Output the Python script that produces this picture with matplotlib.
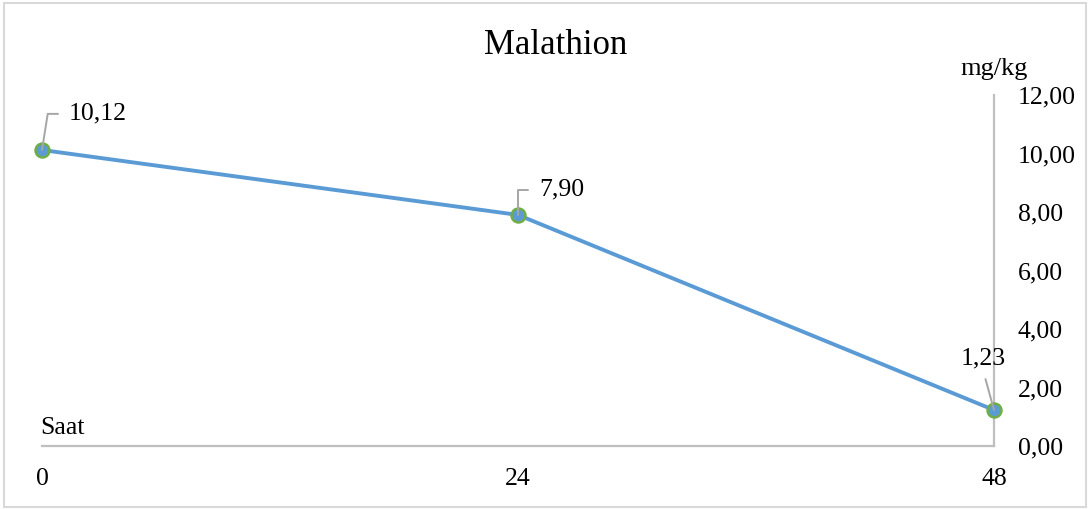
import matplotlib
matplotlib.use("Agg")
import matplotlib.pyplot as plt
from matplotlib.patches import Rectangle

hours = [0, 24, 48]
values = [10.12, 7.90, 1.23]
labels = ["10,12", "7,90", "1,23"]
yticks = [0, 2, 4, 6, 8, 10, 12]
ytick_labels = ["0,00", "2,00", "4,00", "6,00", "8,00", "10,00", "12,00"]
title = "Malathion"
x_name = "Saat"
y_name = "mg/kg"

plt.rcParams['font.family'] = ['Liberation Serif', 'DejaVu Serif']

W, H = 1091, 509
fig = plt.figure(figsize=(W / 100, H / 100), dpi=100)
ax = fig.add_axes([42 / W, 1 - 446 / H, (994 - 42) / W, (446 - 95) / H])

axis_col = '#BFBFBF'
ax.plot(hours, values, color='#5B9BD5', lw=2.8, marker='o', ms=10,
        mfc='#5B9BD5', mec='#70AD47', mew=1.8, zorder=3, clip_on=False)

ax.set_xlim(0, 48)
ax.set_ylim(0, 12)
ax.set_xticks(hours)
ax.set_xticklabels([str(h) for h in hours])
ax.set_yticks(yticks)
ax.set_yticklabels(ytick_labels)
ax.yaxis.tick_right()
ax.tick_params(axis='y', length=0, pad=17, labelsize=18.5)
ax.tick_params(axis='x', length=0, pad=16, labelsize=18.5)
for s in ['left', 'top']:
    ax.spines[s].set_visible(False)
for s in ['right', 'bottom']:
    ax.spines[s].set_color(axis_col)
    ax.spines[s].set_linewidth(1.6)

lead = '#A6A6A6'
# data labels with leader lines
offsets = [(19.5, 26), (15, 18), (-8, 37)]
for i, (x, y, lab) in enumerate(zip(hours, values, labels)):
    dx, dy = offsets[i]
    if i < 2:
        angB = 81 if i == 0 else 90
        ax.annotate(lab, xy=(x, y), xytext=(dx, dy), textcoords='offset points',
                    ha='left', va='center', fontsize=18.5,
                    arrowprops=dict(arrowstyle='-', color=lead, lw=1.4,
                                    connectionstyle=f"angle,angleA=0,angleB={angB},rad=0",
                                    relpos=(0, 0.5), shrinkA=6, shrinkB=0))
    else:
        ax.annotate(lab, xy=(x, y), xytext=(dx, dy), textcoords='offset points',
                    ha='center', va='center', fontsize=18.5,
                    arrowprops=dict(arrowstyle='-', color=lead, lw=1.4,
                                    relpos=(0.5, 0), shrinkA=5, shrinkB=0))

ax.annotate(x_name, xy=(0, 0), xytext=(-1, 5), textcoords='offset points',
            ha='left', va='bottom', fontsize=18.5)
ax.annotate(y_name, xy=(48, 12), xytext=(0, 19), textcoords='offset points',
            ha='center', va='center', fontsize=19, annotation_clip=False)

fig.text(556 / W, 1 - 45 / H, title, ha='center', va='center', fontsize=25)

fig.patches.append(Rectangle((4 / W, 2 / H), (1086 - 4) / W, (506 - 2) / H,
                             transform=fig.transFigure, fill=False,
                             edgecolor='#D9D9D9', lw=1.5))

fig.savefig('out.png', dpi=100)
